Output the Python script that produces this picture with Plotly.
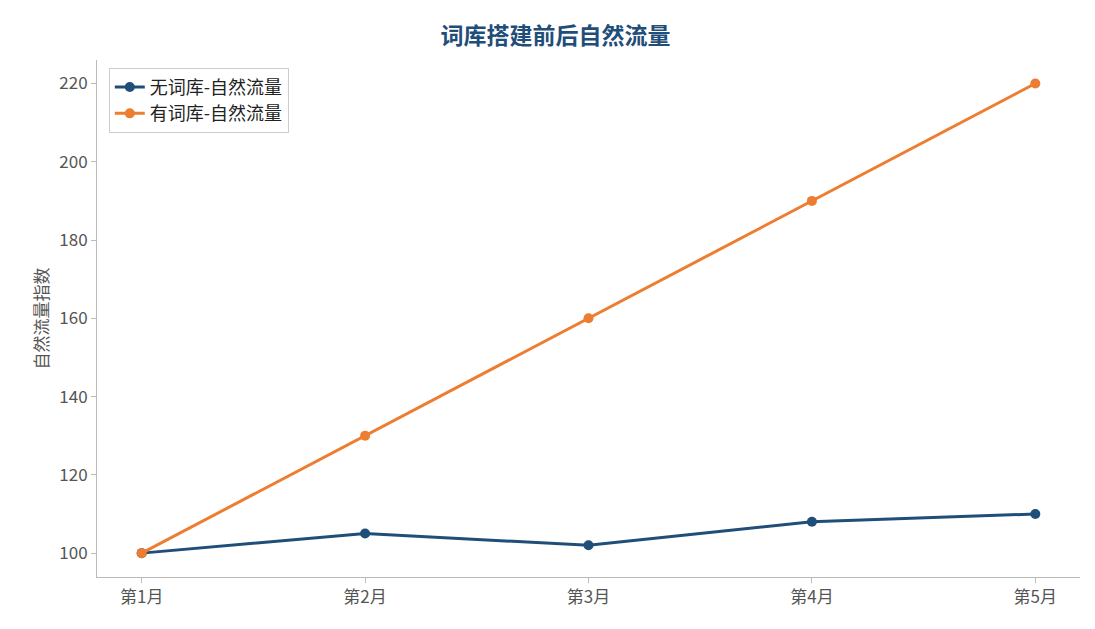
import plotly.graph_objects as go

months = ['第1月', '第2月', '第3月', '第4月', '第5月']
no_lexicon = [100, 105, 102, 108, 110]
with_lexicon = [100, 130, 160, 190, 220]

font_cjk = 'Noto Sans CJK SC'

fig = go.Figure()
fig.add_trace(go.Scatter(x=months, y=no_lexicon, mode='lines+markers', name='无词库-自然流量',
                         line=dict(color='#1f4e79', width=3), marker=dict(size=10)))
fig.add_trace(go.Scatter(x=months, y=with_lexicon, mode='lines+markers', name='有词库-自然流量',
                         line=dict(color='#ed7d31', width=3), marker=dict(size=10)))

fig.update_layout(
    width=1095, height=629,
    plot_bgcolor='white', paper_bgcolor='white',
    font=dict(family=font_cjk, size=17, color='#555555'),
    title=dict(text='<b>词库搭建前后自然流量</b>', x=0.5, y=0.955, xanchor='center', yanchor='middle',
               font=dict(size=23, color='#1f4e79')),
    margin=dict(l=89, r=23, t=52, b=60),
    legend=dict(x=0.012, y=0.985, xanchor='left', yanchor='top', bordercolor='#cccccc',
                borderwidth=1, bgcolor='white', font=dict(size=18, color='#222222')),
    xaxis=dict(range=[-0.2, 4.2], showline=True, linecolor='#bbbbbb', ticks='outside',
               tickcolor='#bbbbbb', showgrid=False),
    yaxis=dict(range=[93.9, 226], showline=True, linecolor='#bbbbbb', ticks='outside',
               tickcolor='#bbbbbb', showgrid=False, dtick=20,
               title=dict(text='自然流量指数', standoff=6, font=dict(size=17))),
)

fig.write_html('out.html')
